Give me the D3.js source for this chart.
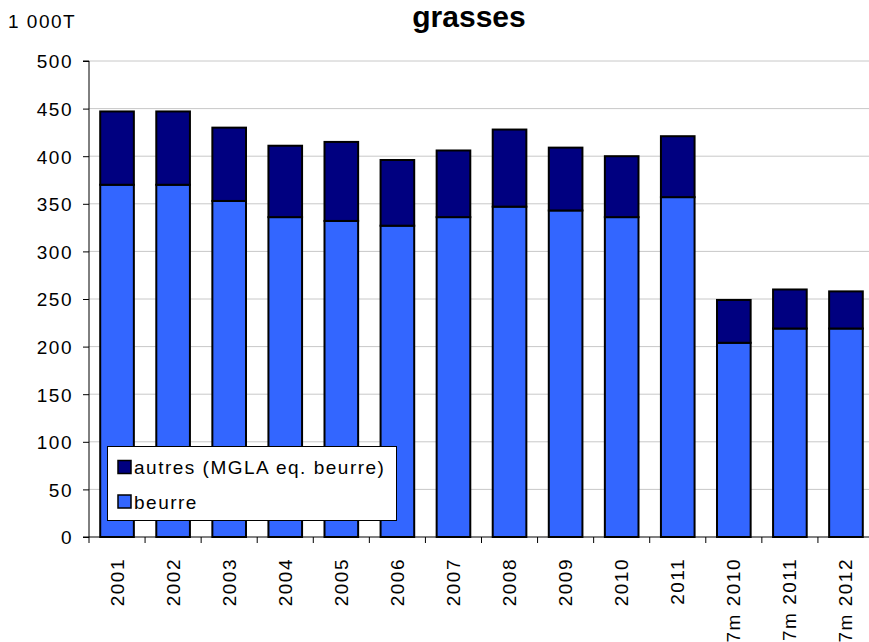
<!DOCTYPE html>
<html><head><meta charset="utf-8">
<script src="https://cdn.jsdelivr.net/npm/d3@7"></script>
<style>body{margin:0;background:#fff}svg{display:block}text{font-family:"Liberation Sans",Arial,sans-serif}</style>
</head><body><svg id="c" width="869" height="642"></svg>
<script>
const categories = ["2001","2002","2003","2004","2005","2006","2007","2008","2009","2010","2011","7m 2010","7m 2011","7m 2012"];
const beurre = [370,370,353,336,332,327,336,347,343,336,357,204,219,219];
const autres = [77,77,77,75,83,69,70,81,66,64,64,45,41,39];
const yTicks = [0,50,100,150,200,250,300,350,400,450,500];
const seriesNames = ["autres (MGLA eq. beurre)","beurre"];
const colors = {"beurre":"#3366FF","autres":"#000080"};

(function(){
const svg = d3.select("#c");
const pL = 89, pR = 874, pT = 61, pB = 537;
const FS = 19, LS = 1.5;
const x = d3.scaleBand().domain(categories).range([pL, pR]).paddingInner(0.4).paddingOuter(0.2);
const y = d3.scaleLinear().domain([0,500]).range([pB, pT]);

// gridlines
svg.append("g").selectAll("line").data(yTicks.filter(d=>d>0)).join("line")
  .attr("x1", pL).attr("x2", pR).attr("y1", d=>y(d)).attr("y2", d=>y(d))
  .attr("stroke", "#c8c8c8").attr("stroke-width", 1);

// bars
const data = categories.map((c,i)=>({c, b: beurre[i], a: autres[i]}));
const g = svg.append("g");
g.selectAll("rect.b").data(data).join("rect").attr("class","b")
  .attr("x", d=>x(d.c)).attr("width", x.bandwidth())
  .attr("y", d=>y(d.b)).attr("height", d=>y(0)-y(d.b))
  .attr("fill", colors.beurre).attr("stroke","#000").attr("stroke-width",2);
g.selectAll("rect.a").data(data).join("rect").attr("class","a")
  .attr("x", d=>x(d.c)).attr("width", x.bandwidth())
  .attr("y", d=>y(d.b+d.a)).attr("height", d=>y(d.b)-y(d.b+d.a))
  .attr("fill", colors.autres).attr("stroke","#000").attr("stroke-width",2);

// y axis
const ya = svg.append("g").attr("transform",`translate(${pL},0)`)
  .call(d3.axisLeft(y).tickValues(yTicks).tickSize(6).tickPadding(10).tickFormat(d3.format("d")));
ya.select(".domain").attr("stroke","#000").attr("d",`M-6,${pT}H0V${pB}H-6`);
ya.selectAll(".tick line").attr("stroke","#000");
ya.selectAll("text").attr("font-size",FS).attr("fill","#000").attr("letter-spacing",LS)
  .attr("font-family","Liberation Sans, Arial, sans-serif").attr("dy","0.36em");

// x axis
const step = x.step();
const xa = svg.append("g");
xa.append("line").attr("x1",pL).attr("x2",pR).attr("y1",pB).attr("y2",pB).attr("stroke","#000");
xa.selectAll("line.t").data(d3.range(categories.length+1)).join("line").attr("class","t")
  .attr("x1", i=>pL + i*step).attr("x2", i=>pL + i*step)
  .attr("y1", pB).attr("y2", pB+6).attr("stroke","#000");
xa.selectAll("text").data(categories).join("text")
  .attr("transform", d=>`translate(${x(d)+x.bandwidth()/2+6.5},${pB+21}) rotate(-90)`)
  .attr("text-anchor","end").attr("font-size",FS).attr("letter-spacing",LS).attr("fill","#000").text(d=>d);

// title & unit
svg.append("text").attr("x",469).attr("y",27).attr("text-anchor","middle")
  .attr("font-size",30).attr("font-weight","bold").text("grasses");
svg.append("text").attr("x",8).attr("y",28).attr("font-size",FS).attr("letter-spacing",LS).text("1 000T");

// legend
const lg = svg.append("g");
lg.append("rect").attr("x",107.5).attr("y",446.5).attr("width",289).attr("height",74)
  .attr("fill","#fff").attr("stroke","#000").attr("stroke-width",1);
const legItems = [{n:seriesNames[0], c:colors.autres},{n:seriesNames[1], c:colors.beurre}];
legItems.forEach((it,i)=>{
  const yy = 460.5 + i*34.5;
  lg.append("rect").attr("x",118).attr("y",yy).attr("width",13).attr("height",13)
    .attr("fill",it.c).attr("stroke","#000").attr("stroke-width",1.5);
  lg.append("text").attr("x",134).attr("y",yy+13.5).attr("font-size",FS).attr("letter-spacing",LS).text(it.n);
});
})();
</script></body></html>
